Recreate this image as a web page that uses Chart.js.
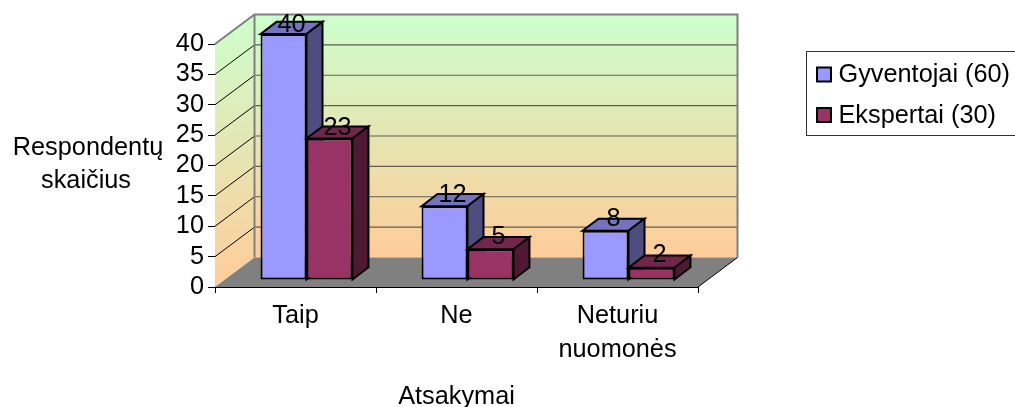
<!DOCTYPE html>
<html><head><meta charset="utf-8">
<style>html,body{margin:0;padding:0;background:#fff}#w{width:1015px;height:407px}</style>
<script src="https://cdn.jsdelivr.net/npm/chart.js@4"></script></head>
<body><div id="w"><canvas id="c" width="1015" height="407"></canvas></div>
<script>
const categories = ['Taip', 'Ne', ['Neturiu', 'nuomonės']];
const gyventojai = [40, 12, 8];
const ekspertai = [23, 5, 2];
const seriesNames = ['Gyventojai (60)', 'Ekspertai (30)'];
const yTicks = [0, 5, 10, 15, 20, 25, 30, 35, 40];
const yTitleLines = ['Respondentų', 'skaičius'];
const xTitle = 'Atsakymai';

const FONT = '"Liberation Sans", Arial, sans-serif';
const SIZE = 25.3;
const WALL_DX = 39.5, WALL_DY = -29.5, BAR_DX = 16, BAR_DY = -12;
const SHADES = [{top:'#7373BF', side:'#4D4D80'}, {top:'#73264D', side:'#4D1933'}];

function poly(ctx, pts, fill, stroke, lw){
  ctx.beginPath();
  pts.forEach((p,i)=> i ? ctx.lineTo(p[0],p[1]) : ctx.moveTo(p[0],p[1]));
  ctx.closePath();
  if(fill){ctx.fillStyle=fill;ctx.fill();}
  if(stroke){ctx.strokeStyle=stroke;ctx.lineWidth=lw;ctx.lineJoin='miter';ctx.stroke();}
}
function barTransform(ctx, area){
  ctx.translate(11, 280);
  ctx.scale(1, 246/243);
  ctx.translate(0, -area.bottom);
}
const box3d = {
  id:'box3d',
  beforeDatasetsDraw(chart){
    const {ctx, chartArea:a, scales:{y}} = chart;
    const L=a.left,R=a.right,T=a.top,B=a.bottom;
    const dx=WALL_DX, dy=WALL_DY;
    ctx.save();
    let g = ctx.createLinearGradient(0,T+dy,0,B+dy);
    g.addColorStop(0,'#CCFFCC'); g.addColorStop(1,'#FFCC99');
    poly(ctx,[[L+dx,T+dy],[R+dx,T+dy],[R+dx,B+dy],[L+dx,B+dy]],g);
    g = ctx.createLinearGradient(0,T+dy,0,B);
    g.addColorStop(0,'#CCFFCC'); g.addColorStop(1,'#FFCC99');
    poly(ctx,[[L,T],[L+dx,T+dy],[L+dx,B+dy],[L,B]],g);
    poly(ctx,[[L,B],[L+dx,B+dy],[R+dx,B+dy],[R,B]],'#808080');
    yTicks.forEach(v=>{
      const p = y.getPixelForValue(v);
      if(v>0 && v<40){
        ctx.strokeStyle='#5f5f50';ctx.lineWidth=1.2;
        ctx.beginPath();ctx.moveTo(L+dx,p+dy);ctx.lineTo(R+dx,p+dy);ctx.stroke();
        ctx.strokeStyle='#000';ctx.lineWidth=1;
        ctx.beginPath();ctx.moveTo(L,p);ctx.lineTo(L+dx,p+dy);ctx.stroke();
      }
    });
    ctx.strokeStyle='#808080';ctx.lineWidth=2;
    ctx.beginPath();
    ctx.moveTo(L,T);ctx.lineTo(L+dx,T+dy);ctx.lineTo(R+dx,T+dy);ctx.lineTo(R+dx,B+dy);
    ctx.moveTo(L+dx,T+dy);ctx.lineTo(L+dx,B+dy);
    ctx.stroke();
    ctx.strokeStyle='#000';ctx.lineWidth=1;
    ctx.beginPath();ctx.moveTo(R,B);ctx.lineTo(R+dx,B+dy);ctx.stroke();
    ctx.restore();
    // boxes, first series behind the second
    chart.data.datasets.forEach((ds,i)=>{
      const meta = chart.getDatasetMeta(i), s = SHADES[i];
      ctx.save();
      barTransform(ctx,a);
      meta.data.forEach(b=>{
        const l=b.x-b.width/2, r=b.x+b.width/2, t=b.y, bt=b.base;
        poly(ctx,[[l,t],[l+BAR_DX,t+BAR_DY],[r+BAR_DX,t+BAR_DY],[r,t]],s.top,'#000',2);
        poly(ctx,[[r,t],[r+BAR_DX,t+BAR_DY],[r+BAR_DX,bt+BAR_DY],[r,bt]],s.side,'#000',2);
      });
      meta.controller.draw();
      ctx.restore();
    });
    return false;
  },
  afterDraw(chart){
    const {ctx} = chart;
    ctx.save();
    ctx.font=SIZE+'px '+FONT;ctx.fillStyle='#000';ctx.textAlign='center';ctx.textBaseline='alphabetic';
    chart.data.datasets.forEach((ds,i)=>{
      chart.getDatasetMeta(i).data.forEach((b,j)=>{
        ctx.fillText(String(ds.data[j]), b.x+19, b.y-12.5);
      });
    });
    ctx.fillText(yTitleLines[0],88,155);
    ctx.fillText(yTitleLines[1],86,188);
    // legend
    ctx.strokeStyle='#333';ctx.lineWidth=1;
    ctx.strokeRect(806.5,51.5,230,84);
    ctx.textAlign='left';
    const rows=[[67.5,81.7],[108,122.7]];
    chart.data.datasets.forEach((ds,i)=>{
      ctx.fillStyle=ds.backgroundColor;ctx.strokeStyle='#000';ctx.lineWidth=2;
      ctx.fillRect(817,rows[i][0],14,14);ctx.strokeRect(817,rows[i][0],14,14);
      ctx.fillStyle='#000';
      ctx.fillText(ds.label,838.5,rows[i][1]);
    });
    ctx.restore();
  }
};
new Chart(document.getElementById('c'),{
  type:'bar',
  data:{labels:categories,datasets:[
    {label:seriesNames[0],data:gyventojai,backgroundColor:'#9999FF',borderColor:'#000',borderWidth:2,borderSkipped:false,clip:false},
    {label:seriesNames[1],data:ekspertai,backgroundColor:'#993366',borderColor:'#000',borderWidth:2,borderSkipped:false,clip:false}
  ]},
  plugins:[box3d],
  options:{
    responsive:false,animation:false,devicePixelRatio:1,
    categoryPercentage:0.571,barPercentage:1,
    layout:{padding:{top:44,left:0,right:317,bottom:0}},
    plugins:{tooltip:{enabled:false},legend:{display:false}},
    scales:{
      y:{min:0,max:40,
        afterFit:s=>{s.width=215;},
        afterBuildTicks:s=>{s.ticks=yTicks.map(v=>({value:v}));},
        border:{display:true,color:'#000',width:1},
        grid:{drawOnChartArea:false,drawTicks:true,tickLength:7,color:'#000'},
        ticks:{color:'#000',padding:4,autoSkip:false,font:{family:FONT,size:SIZE}}},
      x:{
        afterFit:s=>{s.height=120;},
        border:{display:true,color:'#000',width:1},
        grid:{drawOnChartArea:false,drawTicks:true,tickLength:6,color:'#000'},
        title:{display:true,text:xTitle,color:'#000',font:{family:FONT,size:SIZE},padding:{top:0,bottom:-5}},
        ticks:{color:'#000',padding:6,maxRotation:0,autoSkip:false,font:{family:FONT,size:SIZE,lineHeight:1.344}}}
    }
  }
});
</script></body></html>
